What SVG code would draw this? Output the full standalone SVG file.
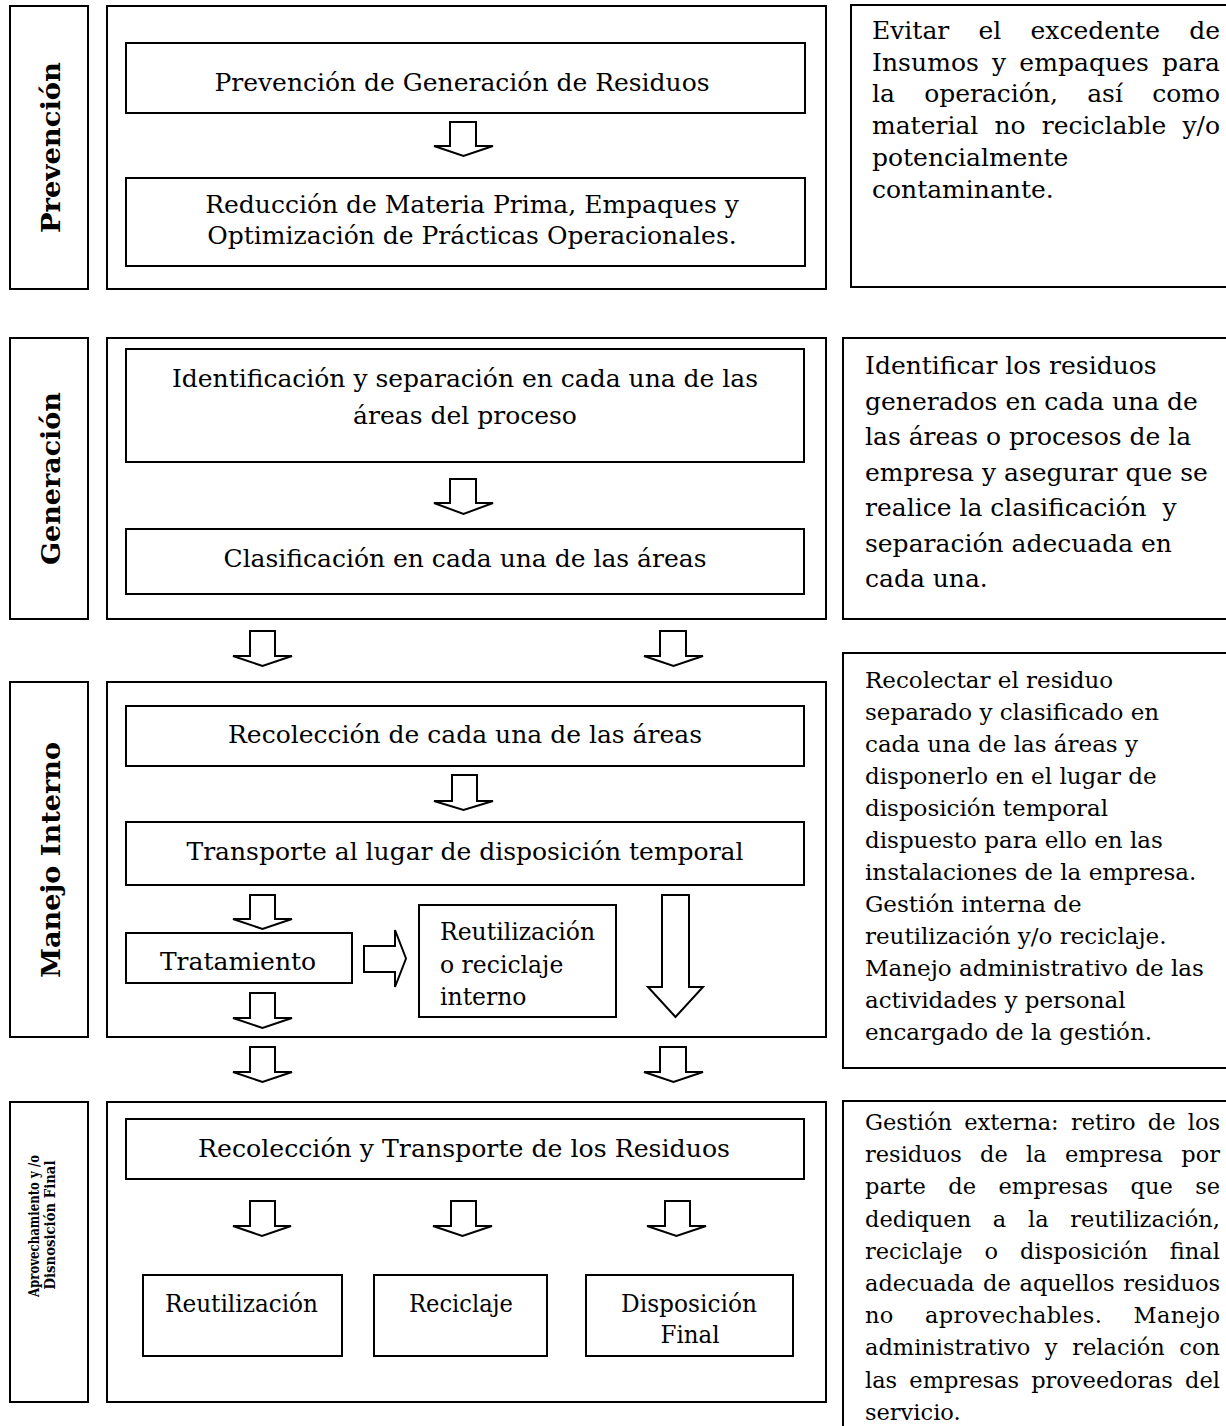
<svg xmlns="http://www.w3.org/2000/svg" width="1226" height="1426" viewBox="0 0 1226 1426">
<style>
.box{fill:#fff;stroke:#000;stroke-width:2}
.arr{fill:#fff;stroke:#000;stroke-width:2;stroke-linejoin:miter}
.t{font-family:"DejaVu Serif","Liberation Serif",serif;font-size:25px;fill:#000}
.m{text-anchor:middle}
.s{font-size:22.5px}
.b{font-family:"DejaVu Serif","Liberation Serif",serif;font-weight:bold;font-size:26px;fill:#000;text-anchor:middle}
.bs{font-size:15px}
</style>
<rect width="1226" height="1426" fill="#fff"/>

<g id="sec1">
  <g id="lbl-prevencion"><rect class="box" x="10" y="6" width="78" height="283"/>
    <text class="b" transform="translate(60,147.5) rotate(-90)" textLength="171" lengthAdjust="spacingAndGlyphs">Prevención</text></g>
  <g id="main-prevencion"><rect class="box" x="107" y="6" width="719" height="283"/></g>
  <g id="n-prev-gen"><rect class="box" x="126" y="43" width="679" height="70"/>
    <text class="t m" x="462" y="91">Prevención de Generación de Residuos</text></g>
  <g id="n-reduccion"><rect class="box" x="126" y="178" width="679" height="88"/>
    <text class="t m" x="472" y="213">Reducción de Materia Prima, Empaques y</text>
    <text class="t m" x="472" y="244">Optimización de Prácticas Operacionales.</text></g>
  <g id="desc-prevencion"><rect class="box" x="851" y="5" width="400" height="282"/>
    <text class="t" x="872" y="39" word-spacing="21.3" textLength="348" lengthAdjust="spacing">Evitar el excedente de</text>
    <text class="t" x="872" y="71" word-spacing="5.1" textLength="348" lengthAdjust="spacing">Insumos y empaques para</text>
    <text class="t" x="872" y="102" word-spacing="21.3" textLength="348" lengthAdjust="spacing">la operación, así como</text>
    <text class="t" x="872" y="134" word-spacing="8.2" textLength="348" lengthAdjust="spacing">material no reciclable y/o</text>
    <text class="t" x="872" y="166">potencialmente</text>
    <text class="t" x="872" y="198">contaminante.</text></g>
</g>

<g id="sec2">
  <g id="lbl-generacion"><rect class="box" x="10" y="338" width="78" height="281"/>
    <text class="b" transform="translate(60,478.5) rotate(-90)" textLength="173" lengthAdjust="spacingAndGlyphs">Generación</text></g>
  <g id="main-generacion"><rect class="box" x="107" y="338" width="719" height="281"/></g>
  <g id="n-identificacion"><rect class="box" x="126" y="349" width="678" height="113"/>
    <text class="t m" x="465" y="387">Identificación y separación en cada una de las</text>
    <text class="t m" x="465" y="424">áreas del proceso</text></g>
  <g id="n-clasificacion"><rect class="box" x="126" y="529" width="678" height="65"/>
    <text class="t m" x="465" y="567">Clasificación en cada una de las áreas</text></g>
  <g id="desc-generacion"><rect class="box" x="843" y="338" width="400" height="281"/>
    <text class="t" x="865" y="374">Identificar los residuos</text>
    <text class="t" x="865" y="409.5">generados en cada una de</text>
    <text class="t" x="865" y="445">las áreas o procesos de la</text>
    <text class="t" x="865" y="480.5">empresa y asegurar que se</text>
    <text class="t" x="865" y="516" xml:space="preserve">realice la clasificación  y</text>
    <text class="t" x="865" y="551.5">separación adecuada en</text>
    <text class="t" x="865" y="587">cada una.</text></g>
</g>

<g id="sec3">
  <g id="lbl-manejo"><rect class="box" x="10" y="682" width="78" height="355"/>
    <text class="b" transform="translate(60,860) rotate(-90)" textLength="236" lengthAdjust="spacingAndGlyphs">Manejo Interno</text></g>
  <g id="main-manejo"><rect class="box" x="107" y="682" width="719" height="355"/></g>
  <g id="n-recoleccion"><rect class="box" x="126" y="706" width="678" height="60"/>
    <text class="t m" x="465" y="743">Recolección de cada una de las áreas</text></g>
  <g id="n-transporte"><rect class="box" x="126" y="822" width="678" height="63"/>
    <text class="t m" x="465" y="860">Transporte al lugar de disposición temporal</text></g>
  <g id="n-tratamiento"><rect class="box" x="126" y="933" width="226" height="50"/>
    <text class="t m" x="238" y="970">Tratamiento</text></g>
  <g id="n-reutilizacion-interna"><rect class="box" x="419" y="905" width="197" height="112"/>
    <text class="t" x="440" y="940" style="font-size:23.5px">Reutilización</text>
    <text class="t" x="440" y="973" style="font-size:23.5px">o reciclaje</text>
    <text class="t" x="440" y="1005" style="font-size:23.5px">interno</text></g>
  <g id="desc-manejo"><rect class="box" x="843" y="653" width="400" height="415"/>
    <text class="t" x="865" y="688" style="font-size:23px">Recolectar el residuo</text>
    <text class="t" x="865" y="720" style="font-size:23px">separado y clasificado en</text>
    <text class="t" x="865" y="752" style="font-size:23px">cada una de las áreas y</text>
    <text class="t" x="865" y="784" style="font-size:23px">disponerlo en el lugar de</text>
    <text class="t" x="865" y="816" style="font-size:23px">disposición temporal</text>
    <text class="t" x="865" y="848" style="font-size:23px">dispuesto para ello en las</text>
    <text class="t" x="865" y="880" style="font-size:23px">instalaciones de la empresa.</text>
    <text class="t" x="865" y="912" style="font-size:23px">Gestión interna de</text>
    <text class="t" x="865" y="944" style="font-size:23px">reutilización y/o reciclaje.</text>
    <text class="t" x="865" y="976" style="font-size:23px">Manejo administrativo de las</text>
    <text class="t" x="865" y="1008" style="font-size:23px">actividades y personal</text>
    <text class="t" x="865" y="1040" style="font-size:23px">encargado de la gestión.</text></g>
</g>

<g id="sec4">
  <g id="lbl-aprovechamiento"><rect class="box" x="10" y="1102" width="78" height="300"/>
    <text class="b bs" transform="translate(39,1226) rotate(-90)" textLength="142" lengthAdjust="spacingAndGlyphs">Aprovechamiento y /o</text>
    <text class="b bs" transform="translate(55,1225) rotate(-90)" textLength="129" lengthAdjust="spacingAndGlyphs">Disnosición Final</text></g>
  <g id="main-aprovechamiento"><rect class="box" x="107" y="1102" width="719" height="300"/></g>
  <g id="n-recoleccion-transporte"><rect class="box" x="126" y="1119" width="678" height="60"/>
    <text class="t m" x="464" y="1157" textLength="532" lengthAdjust="spacingAndGlyphs">Recolección y Transporte de los Residuos</text></g>
  <g id="n-reutilizacion"><rect class="box" x="143" y="1275" width="199" height="81"/>
    <text class="t m" x="241.5" y="1312" textLength="153" lengthAdjust="spacingAndGlyphs">Reutilización</text></g>
  <g id="n-reciclaje"><rect class="box" x="374" y="1275" width="173" height="81"/>
    <text class="t m" x="461" y="1312" textLength="104" lengthAdjust="spacingAndGlyphs">Reciclaje</text></g>
  <g id="n-disposicion"><rect class="box" x="586" y="1275" width="207" height="81"/>
    <text class="t m" x="689" y="1312" textLength="136" lengthAdjust="spacingAndGlyphs">Disposición</text>
    <text class="t m" x="690" y="1343" textLength="59" lengthAdjust="spacingAndGlyphs">Final</text></g>
  <g id="desc-aprovechamiento"><rect class="box" x="843" y="1101" width="400" height="400"/>
    <text class="t s" x="865" y="1130" word-spacing="5.2" textLength="355" lengthAdjust="spacing">Gestión externa: retiro de los</text>
    <text class="t s" x="865" y="1162.2" word-spacing="11.1" textLength="355" lengthAdjust="spacing">residuos de la empresa por</text>
    <text class="t s" x="865" y="1194.4" word-spacing="15.3" textLength="355" lengthAdjust="spacing">parte de empresas que se</text>
    <text class="t s" x="865" y="1226.6" word-spacing="14.5" textLength="355" lengthAdjust="spacing">dediquen a la reutilización,</text>
    <text class="t s" x="865" y="1258.8" word-spacing="14.8" textLength="355" lengthAdjust="spacing">reciclaje o disposición final</text>
    <text class="t s" x="865" y="1291" word-spacing="1.5" textLength="355" lengthAdjust="spacing">adecuada de aquellos residuos</text>
    <text class="t s" x="865" y="1323.2" word-spacing="23.9" textLength="355" lengthAdjust="spacing">no aprovechables. Manejo</text>
    <text class="t s" x="865" y="1355.4" word-spacing="7.5" textLength="355" lengthAdjust="spacing">administrativo y relación con</text>
    <text class="t s" x="865" y="1387.6" word-spacing="5" textLength="355" lengthAdjust="spacing">las empresas proveedoras del</text>
    <text class="t s" x="865" y="1419.8">servicio.</text></g>
</g>

<g id="connectors">
  <path class="arr" d="M450 122H476V146H493L463.5 156L434 146H450Z"/>
  <path class="arr" d="M450 479H476V503H493L463.5 514L434 503H450Z"/>
  <path class="arr" d="M250 631H275V656H292L262.5 666L233 656H250Z"/>
  <path class="arr" d="M660 631H686V656H703L673.5 666L644 656H660Z"/>
  <path class="arr" d="M452 775H477V801H493L463.5 810L434 801H452Z"/>
  <path class="arr" d="M250 895H275V919H292L262.5 929L233 919H250Z"/>
  <path class="arr" d="M364 946H395V930L406 958.5L395 987V972H364Z"/>
  <path class="arr" d="M250 993H275V1018H292L262.5 1028L233 1018H250Z"/>
  <path class="arr" d="M662 895H689V987H703L675.5 1017L648 987H662Z"/>
  <path class="arr" d="M250 1047H275V1072H292L262.5 1082L233 1072H250Z"/>
  <path class="arr" d="M660 1047H686V1072H703L673.5 1082L644 1072H660Z"/>
  <path class="arr" d="M250 1201H275V1226H291L262 1236L233 1226H250Z"/>
  <path class="arr" d="M451 1201H476V1226H492L462.5 1236L433 1226H451Z"/>
  <path class="arr" d="M665 1201H690V1226H706L676.5 1236L647 1226H665Z"/>
</g>
</svg>
